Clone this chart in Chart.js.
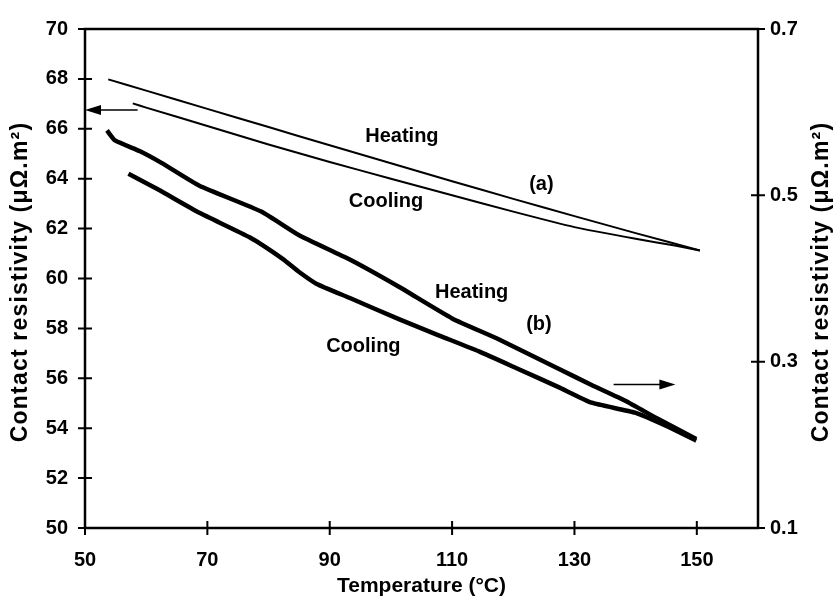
<!DOCTYPE html>
<html>
<head>
<meta charset="utf-8">
<title>Contact resistivity vs temperature</title>
<script src="https://cdn.jsdelivr.net/npm/chart.js@4.4.0/dist/chart.umd.min.js"></script>
<style>
    html, body { margin: 0; padding: 0; background: #fff; }
    #wrap { width: 836px; height: 601px; }
</style>
</head>
<body>
<div id="wrap"><canvas id="resChart" width="836" height="601"></canvas></div>
<script>
// sample (a) - left axis (uOhm.m2)
const aHeatTemp = [53.8, 60, 70, 80, 90, 100, 110, 120, 130, 140, 150.5];
const aHeatRes = [67.98, 67.53, 66.80, 66.07, 65.34, 64.62, 63.90, 63.19, 62.50, 61.82, 61.12];
const aCoolTemp = [57.8, 60, 70, 80, 90, 100, 110, 120, 130, 140, 146.4, 150.5];
const aCoolRes = [67.02, 66.85, 66.11, 65.37, 64.67, 64.00, 63.34, 62.68, 62.06, 61.59, 61.32, 61.12];

// sample (b) - right axis (uOhm.m2)
const bHeatTemp = [53.6, 54.9, 59.0, 62.5, 68.7, 78.8, 85.0, 93.2, 101.3, 110.0, 117.6, 127.4, 132.8, 138.3, 143.7, 149.9];
const bHeatRes = [0.578, 0.566, 0.553, 0.539, 0.5115, 0.4805, 0.452, 0.423, 0.390, 0.352, 0.327, 0.2915, 0.272, 0.253, 0.231, 0.207];
const bCoolTemp = [57.1, 62.2, 68.7, 76.9, 82.3, 85.0, 87.8, 93.2, 101.3, 107.9, 114.4, 120.9, 127.4, 132.8, 139.9, 145.3, 149.9];
const bCoolRes = [0.526, 0.506, 0.479, 0.4495, 0.4236, 0.4078, 0.3938, 0.3768, 0.3511, 0.3314, 0.3123, 0.2909, 0.2694, 0.2507, 0.2387, 0.2217, 0.205];

const xTicks = [50, 70, 90, 110, 130, 150];
const leftTicks = [50, 52, 54, 56, 58, 60, 62, 64, 66, 68, 70];
const rightTicks = [0.1, 0.3, 0.5, 0.7];

// curve labels, placed in (temperature, left-axis) units
const curveLabels = [
    { text: 'Heating', x: 101.8, y: 65.71 },
    { text: 'Cooling', x: 99.2, y: 63.08 },
    { text: '(a)', x: 124.6, y: 63.76 },
    { text: 'Heating', x: 113.2, y: 59.42 },
    { text: '(b)', x: 124.2, y: 58.15 },
    { text: 'Cooling', x: 95.5, y: 57.28 }
];
// arrows: from -> to, in (temperature, left-axis) units
const arrows = [
    { x1: 58.6, x2: 50.0, y: 66.75 },
    { x1: 136.4, x2: 146.5, y: 55.75 }
];

function toPoints(xs, ys) {
    return xs.map((x, i) => ({ x: x, y: ys[i] }));
}

const FONT = '"Liberation Sans", Arial, sans-serif';

const decorPlugin = {
    id: 'decor',
    afterDraw(chart) {
        const ctx = chart.ctx;
        const area = chart.chartArea;
        const x = chart.scales.x;
        const yl = chart.scales.y;
        const yr = chart.scales.y2;

        ctx.save();
        ctx.strokeStyle = '#000';
        ctx.fillStyle = '#000';

        // frame
        ctx.lineWidth = 2.5;
        ctx.strokeRect(area.left, area.top, area.right - area.left, area.bottom - area.top);

        // tick marks crossing the axes
        ctx.lineWidth = 2;
        ctx.beginPath();
        xTicks.forEach(v => {
            const px = x.getPixelForValue(v);
            ctx.moveTo(px, area.bottom - 7);
            ctx.lineTo(px, area.bottom + 7);
        });
        leftTicks.forEach(v => {
            const py = yl.getPixelForValue(v);
            ctx.moveTo(area.left - 7, py);
            ctx.lineTo(area.left + 7, py);
        });
        rightTicks.forEach(v => {
            const py = yr.getPixelForValue(v);
            ctx.moveTo(area.right - 7, py);
            ctx.lineTo(area.right + 7, py);
        });
        ctx.stroke();

        // arrows
        ctx.lineWidth = 1.5;
        arrows.forEach(a => {
            const p1 = x.getPixelForValue(a.x1);
            const p2 = x.getPixelForValue(a.x2);
            const py = yl.getPixelForValue(a.y);
            const dir = p2 > p1 ? 1 : -1;
            ctx.beginPath();
            ctx.moveTo(p1, py);
            ctx.lineTo(p2 - dir * 10, py);
            ctx.stroke();
            ctx.beginPath();
            ctx.moveTo(p2, py);
            ctx.lineTo(p2 - dir * 16, py - 5);
            ctx.lineTo(p2 - dir * 16, py + 5);
            ctx.closePath();
            ctx.fill();
        });

        // curve labels
        ctx.font = 'bold 20px ' + FONT;
        ctx.textAlign = 'center';
        ctx.textBaseline = 'middle';
        curveLabels.forEach(l => {
            ctx.fillText(l.text, x.getPixelForValue(l.x), yl.getPixelForValue(l.y));
        });

        // axis titles
        ctx.font = 'bold 21px ' + FONT;
        ctx.fillText('Temperature (\u00B0C)', (area.left + area.right) / 2, 586);

        const yTitle = 'Contact resistivity (\u03BC\u03A9.m\u00B2)';
        ctx.font = 'bold 23px ' + FONT;
        ctx.letterSpacing = '1.2px';
        [21, 822].forEach(cx => {
            ctx.save();
            ctx.translate(cx, 282);
            ctx.rotate(-Math.PI / 2);
            ctx.fillText(yTitle, 0, 0);
            ctx.restore();
        });

        ctx.restore();
    }
};

const tickFont = { family: FONT, size: 20, weight: 'bold' };
const noGrid = { display: false, drawTicks: false };

const ctx = document.getElementById('resChart').getContext('2d');
const resChart = new Chart(ctx, {
    type: 'line',
    data: {
        datasets: [
            { label: 'Heating (a)', data: toPoints(aHeatTemp, aHeatRes), yAxisID: 'y', borderWidth: 2 },
            { label: 'Cooling (a)', data: toPoints(aCoolTemp, aCoolRes), yAxisID: 'y', borderWidth: 2 },
            { label: 'Heating (b)', data: toPoints(bHeatTemp, bHeatRes), yAxisID: 'y2', borderWidth: 4.5 },
            { label: 'Cooling (b)', data: toPoints(bCoolTemp, bCoolRes), yAxisID: 'y2', borderWidth: 4.5 }
        ]
    },
    options: {
        responsive: false,
        animation: false,
        layout: { padding: { top: 25, left: 0, right: 0, bottom: 0 } },
        elements: {
            line: { borderColor: '#000', tension: 0.15, fill: false },
            point: { radius: 0 }
        },
        plugins: {
            legend: { display: false },
            tooltip: { enabled: false }
        },
        scales: {
            x: {
                type: 'linear',
                min: 50,
                max: 160,
                grid: noGrid,
                border: { display: false },
                afterBuildTicks: s => { s.ticks = xTicks.map(v => ({ value: v })); },
                afterFit: s => { s.height = 73; },
                ticks: { font: tickFont, color: '#000', padding: 20, maxRotation: 0 }
            },
            y: {
                position: 'left',
                min: 50,
                max: 70,
                grid: noGrid,
                border: { display: false },
                afterBuildTicks: s => { s.ticks = leftTicks.map(v => ({ value: v })); },
                afterFit: s => { s.width = 85; },
                ticks: { font: tickFont, color: '#000', padding: 17 }
            },
            y2: {
                position: 'right',
                min: 0.1,
                max: 0.7,
                grid: noGrid,
                border: { display: false },
                afterBuildTicks: s => { s.ticks = rightTicks.map(v => ({ value: v })); },
                afterFit: s => { s.width = 78; },
                ticks: { font: tickFont, color: '#000', padding: 12, callback: v => v.toFixed(1) }
            }
        }
    },
    plugins: [decorPlugin]
});
</script>
</body>
</html>
